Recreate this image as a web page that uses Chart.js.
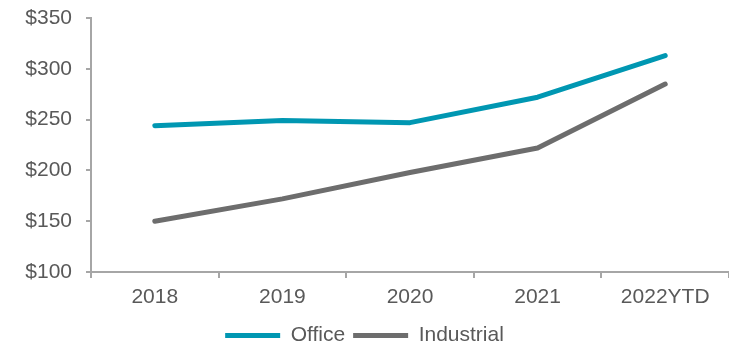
<!DOCTYPE html>
<html>
<head>
<meta charset="utf-8">
<script src="https://cdn.jsdelivr.net/npm/chart.js@4/dist/chart.umd.min.js"></script>
<style>
  html, body { margin: 0; padding: 0; background: #ffffff; }
  #wrap { width: 729px; height: 341px; }
</style>
</head>
<body>
<div id="wrap"><canvas id="priceChart" width="729" height="341"></canvas></div>
<script>
const years = ["2018", "2019", "2020", "2021", "2022YTD"];
const officeValues = [244, 249, 247, 272, 313];
const industrialValues = [150, 172, 198, 222, 285];
const yTicks = [100, 150, 200, 250, 300, 350];

const axisColor = "#a6a6a6";
const textColor = "#595959";

Chart.defaults.font.family = "'Liberation Sans', Arial, sans-serif";
Chart.defaults.font.size = 21;
Chart.defaults.color = textColor;

const ctx = document.getElementById("priceChart").getContext("2d");
new Chart(ctx, {
    type: "line",
    data: {
        labels: years,
        datasets: [
            {
                label: "Office",
                data: officeValues,
                borderColor: "#0097b2",
                backgroundColor: "#0097b2",
                borderWidth: 5,
                borderCapStyle: "round",
                borderJoinStyle: "round",
                pointRadius: 0,
                fill: false
            },
            {
                label: "Industrial",
                data: industrialValues,
                borderColor: "#6d6d6d",
                backgroundColor: "#6d6d6d",
                borderWidth: 5,
                borderCapStyle: "round",
                borderJoinStyle: "round",
                pointRadius: 0,
                fill: false
            }
        ]
    },
    options: {
        responsive: false,
        animation: false,
        layout: { padding: { top: 18, right: 0, left: 0, bottom: -15 } },
        plugins: {
            tooltip: { enabled: false },
            legend: {
                position: "bottom",
                labels: {
                    usePointStyle: true,
                    pointStyle: "line",
                    pointStyleWidth: 55,
                    padding: 8,
                    color: textColor,
                    font: { size: 21 }
                }
            }
        },
        scales: {
            x: {
                offset: true,
                grid: {
                    offset: true,
                    drawOnChartArea: false,
                    drawTicks: true,
                    tickLength: 6,
                    color: axisColor,
                    lineWidth: 2
                },
                border: { display: true, color: axisColor, width: 2 },
                ticks: { padding: 9, color: textColor, maxRotation: 0, font: { size: 21, lineHeight: 1 } }
            },
            y: {
                min: yTicks[0],
                max: yTicks[yTicks.length - 1],
                afterBuildTicks: axis => {
                    axis.ticks = yTicks.map(v => ({ value: v }));
                },
                afterFit: axis => {
                    axis.width = 91;
                    axis.paddingTop = 0;
                },
                grid: {
                    drawOnChartArea: false,
                    drawTicks: true,
                    tickLength: 5,
                    color: axisColor,
                    lineWidth: 2
                },
                border: { display: true, color: axisColor, width: 2 },
                ticks: {
                    padding: 14,
                    color: textColor,
                    callback: v => "$" + v
                }
            }
        }
    }
});
</script>
</body>
</html>
